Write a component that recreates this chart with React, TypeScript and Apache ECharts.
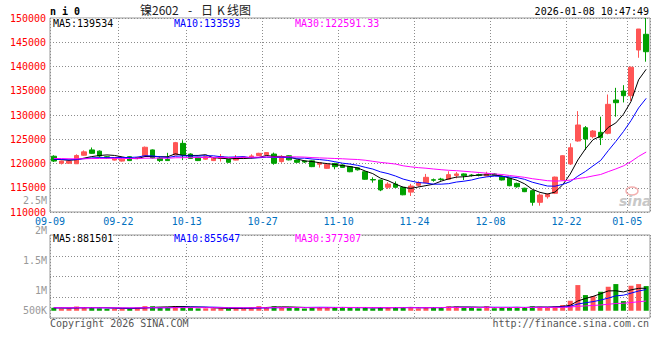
import React, { useEffect, useRef } from 'react';
import * as echarts from 'echarts';

// ---- categories (trading days) ----
const dates = ['09-09','09-10','09-11','09-12','09-15','09-16','09-17','09-18','09-19','09-22','09-23','09-24','09-25','09-26','09-29','09-30','10-09','10-10','10-13','10-14','10-15','10-16','10-17','10-20','10-21','10-22','10-23','10-24','10-27','10-28','10-29','10-30','10-31','11-03','11-04','11-05','11-06','11-07','11-10','11-11','11-12','11-13','11-14','11-17','11-18','11-19','11-20','11-21','11-24','11-25','11-26','11-27','11-28','12-01','12-02','12-03','12-04','12-05','12-08','12-09','12-10','12-11','12-12','12-15','12-16','12-17','12-18','12-19','12-22','12-23','12-24','12-25','12-26','12-29','12-30','12-31','01-05','01-06','01-07'];
const tickLabels = ['09-09','09-22','10-13','10-27','11-10','11-24','12-08','12-22','01-05'];

// ---- OHLC ----
const opens = [121500,120050,120050,119950,121700,122800,122550,121400,120700,120500,121400,121050,121550,122800,121100,120850,121750,124150,121950,121250,120900,120600,121050,120850,120700,121150,121300,121650,121800,121950,120400,121600,120700,120500,120550,119850,119000,120000,119700,119350,119100,118300,116700,116600,115100,115750,115100,114100,115500,116050,116650,116800,116750,117550,117850,117600,117700,117450,117850,117300,116950,115900,114900,114400,112000,113150,113850,116600,119900,124640,127380,125530,126430,126230,133090,134950,133980,143400,146640];
const closes = [120500,120500,120500,121650,122400,122100,121550,121150,121100,120900,120600,121250,123350,121150,120600,120600,124300,121750,121050,120600,121400,121100,121400,120250,121050,121300,121550,122100,122250,120050,121400,120750,120250,120300,119350,120150,119850,119350,119200,118300,118700,116750,116600,114550,115750,115100,113550,115350,116050,117150,116550,116700,117700,117850,117500,117550,117550,117850,117600,116600,115420,115200,114190,112000,113500,113650,117200,121600,123250,127940,125050,126700,125320,132200,132540,133980,139840,147730,143050];
const lows = [120300,119800,119900,119900,121600,122000,121200,121000,120600,120400,120500,120900,121450,121050,120300,120550,121700,120700,120950,120500,120800,120500,120400,120150,120650,121050,121000,121600,121700,119750,120150,120650,120150,120100,119250,119150,118900,118800,119100,118200,118550,116650,116050,114300,114750,115000,113450,113300,115200,115950,116250,116450,116650,116950,116600,117300,117350,117350,117450,116500,115300,115000,114100,111300,111300,112750,113700,116500,119700,124500,122780,125200,123800,126020,129650,132590,132890,141800,140990];
const highs = [121700,120600,120600,121900,122700,123300,122700,121550,121300,121100,121500,121400,123500,122900,121400,122200,124450,124800,122100,121300,121500,121200,121950,120950,121750,121450,121900,122200,122350,122250,121700,121700,120800,120650,120650,120250,119950,120150,119850,119450,119200,118400,117150,116650,116150,116300,115200,115800,116350,117850,116900,117050,118400,118250,117950,117800,117900,118300,118000,117450,117100,116050,115000,114500,113850,113850,117300,121700,124150,130800,127720,126900,129650,134220,135600,136150,140000,147730,150000];

// ---- volume ----
const volumes = [120000,90000,90000,170000,140000,135000,100000,80000,80000,80000,100000,130000,185000,180000,140000,140000,190000,185000,130000,95000,95000,95000,95000,80000,100000,90000,140000,185000,140000,180000,130000,130000,130000,90000,140000,120000,130000,140000,130000,130000,100000,135000,90000,140000,135000,130000,135000,130000,95000,135000,140000,130000,180000,170000,130000,130000,95000,180000,100000,130000,135000,130000,135000,180000,160000,130000,170000,230000,400000,1027000,627000,587000,760000,960000,1067000,387000,1000000,1067000,987000];

// estimated sessions before 09-09 (needed for the moving averages at the left edge)
const historyCloses = [121300,121800,122100,121600,121200,120800,120500,120900,121400,121700,121300,120900,120600,120800,121200,121500,121100,120700,120400,120600,121000,121300,121000,120700,120500,120900,121200,121000,120800];
const historyVolumes = [130000,110000,150000,120000,100000,140000,125000,115000,135000,105000,120000,145000,110000,125000,130000,100000,120000,140000,115000,125000,110000,135000,120000,105000,130000,115000,125000,120000,110000];

// ---- texts ----
const priceLegend = ['MA5:139534', 'MA10:133593', 'MA30:122591.33'];
const volLegend = ['MA5:881501', 'MA10:855647', 'MA30:377307'];
const volTickLabels = ['2.5M', '2M', '1.5M', '1M', '500K'];
const titleParts = ['镍2602', '-', '日', 'K', '线图'];
const legendColors = ['#000000', '#0000ff', '#ff00ff'];

const UP = '#ff5555';
const DOWN = '#00a000';
const MONO = '"DejaVu Sans Mono", monospace';

function movingAvg(all: number[], n: number, offset: number): number[] {
  const out: number[] = [];
  for (let i = offset; i < all.length; i++) {
    let s = 0;
    for (let k = i - n + 1; k <= i; k++) s += all[k];
    out.push(Math.round((s / n) * 100) / 100);
  }
  return out;
}

export default function App() {
  const ref = useRef<HTMLDivElement>(null);
  useEffect(() => {
    if (!ref.current) return;
    const chart = echarts.init(ref.current, null, { renderer: 'svg' });
    const allC = [...historyCloses, ...closes];
    const allV = [...historyVolumes, ...volumes];
    const off = historyCloses.length;
    const candleData = opens.map((o, i) => [o, closes[i], lows[i], highs[i]]);
    const volData = volumes.map((v, i) => ({
      value: v,
      itemStyle: { color: closes[i] >= opens[i] ? UP : DOWN },
    }));
    const slot = 600 / dates.length;
    const dotted = { color: '#8c8c8c', width: 1, type: [1, 2] as any };
    const isTick = (_i: number, v: string) => tickLabels.includes(v);

    const txt = (text: string, x: number, y: number, fill: string, font: string, align = 'left', bg?: string) => ({
      type: 'text', x, y, z: 100,
      style: {
        text, fill, font, align, verticalAlign: 'middle', textAlign: align, textVerticalAlign: 'middle',
        backgroundColor: bg,
      },
    });
    const legendX = [53, 174, 295];
    const volLabelY = [200, 230.7, 260.7, 290.7, 310];
    const titleX = [140, 188, 201, 217, 227];
    const CJK = '12px "Noto Sans CJK SC"';

    const option: any = {
      animation: false,
      backgroundColor: '#ffffff',
      grid: [
        { left: 50, top: 18, width: 600, height: 194, show: true, borderColor: '#999999', borderWidth: 1, backgroundColor: 'transparent' },
        { left: 50, top: 235, width: 600, height: 83, show: true, borderColor: '#999999', borderWidth: 1, backgroundColor: 'transparent' },
      ],
      xAxis: [
        {
          type: 'category', gridIndex: 0, data: dates, boundaryGap: true,
          axisLine: { show: false }, axisTick: { show: false },
          axisLabel: { interval: isTick, color: '#0070c0', fontFamily: MONO, fontSize: 10, margin: 4, padding: [0, slot, 0, 0] },
          splitLine: { show: true, interval: isTick, lineStyle: dotted },
        },
        {
          type: 'category', gridIndex: 1, data: dates, boundaryGap: true,
          axisLine: { show: false }, axisTick: { show: false }, axisLabel: { show: false },
          splitLine: { show: true, interval: isTick, lineStyle: dotted },
        },
      ],
      yAxis: [
        {
          type: 'value', gridIndex: 0, min: 110000, max: 150000, interval: 5000,
          axisLine: { show: false }, axisTick: { show: false },
          axisLabel: { color: '#ff0000', fontFamily: MONO, fontSize: 10, margin: 4, formatter: (v: number) => String(v) },
          splitLine: { show: true, lineStyle: dotted },
        },
        {
          type: 'value', gridIndex: 1, min: 0, max: 2000000, interval: 500000,
          axisLine: { show: false }, axisTick: { show: false }, axisLabel: { show: false },
          splitLine: { show: true, lineStyle: dotted },
        },
        {
          type: 'value', gridIndex: 1, min: -290000, max: 3030000, show: false,
          splitLine: { show: false },
        },
      ],
      series: [
        {
          type: 'candlestick', xAxisIndex: 0, yAxisIndex: 0, data: candleData, barWidth: 5,
          itemStyle: { color: UP, color0: DOWN, borderColor: UP, borderColor0: DOWN, borderWidth: 1 },
        },
        { type: 'line', xAxisIndex: 0, yAxisIndex: 0, data: movingAvg(allC, 5, off), symbol: 'none', lineStyle: { color: '#000000', width: 1 }, z: 5 },
        { type: 'line', xAxisIndex: 0, yAxisIndex: 0, data: movingAvg(allC, 10, off), symbol: 'none', lineStyle: { color: '#0000ff', width: 1 }, z: 5 },
        { type: 'line', xAxisIndex: 0, yAxisIndex: 0, data: movingAvg(allC, 30, off), symbol: 'none', lineStyle: { color: '#ff00ff', width: 1 }, z: 5 },
        { type: 'bar', xAxisIndex: 1, yAxisIndex: 2, data: volData, barWidth: 5 },
        { type: 'line', xAxisIndex: 1, yAxisIndex: 2, data: movingAvg(allV, 5, off), symbol: 'none', lineStyle: { color: '#000000', width: 1 }, z: 5 },
        { type: 'line', xAxisIndex: 1, yAxisIndex: 2, data: movingAvg(allV, 10, off), symbol: 'none', lineStyle: { color: '#0000ff', width: 1 }, z: 5 },
        { type: 'line', xAxisIndex: 1, yAxisIndex: 2, data: movingAvg(allV, 30, off), symbol: 'none', lineStyle: { color: '#ff00ff', width: 1 }, z: 5 },
      ],
      graphic: [
        txt('n i 0', 50, 11.5, '#000000', `bold 10px ${MONO}`),
        ...titleParts.map((t, i) => txt(t, titleX[i], 9.5, '#222222', CJK)),
        txt('2026-01-08 10:47:49', 649, 11.5, '#000000', `10px ${MONO}`, 'right'),
        ...priceLegend.map((t, i) => txt(t, legendX[i], 23.5, legendColors[i], `10px ${MONO}`, 'left', '#ffffff')),
        ...volLegend.map((t, i) => txt(t, legendX[i], 238.5, legendColors[i], `10px ${MONO}`, 'left', '#ffffff')),
        ...volTickLabels.map((t, i) => txt(t, 47, volLabelY[i], '#999999', `10px ${MONO}`, 'right')),
        txt('Copyright 2026 SINA.COM', 50, 323.5, '#555555', `10px ${MONO}`),
        txt('http://finance.sina.com.cn', 649, 323.5, '#555555', `10px ${MONO}`, 'right'),
        { type: 'ellipse', z: 1, shape: { cx: 632, cy: 191, rx: 6, ry: 4 }, style: { fill: 'none', stroke: '#f4b0b0', lineWidth: 1.5 } },
        txt('sina', 619, 201, '#c8c8c8', 'italic bold 14px "DejaVu Sans"'),
      ],
    };
    chart.setOption(option);
    return () => chart.dispose();
  }, []);
  return <div ref={ref} style={{ position: 'fixed', left: 0, top: 0, width: 660, height: 360 }} />;
}
